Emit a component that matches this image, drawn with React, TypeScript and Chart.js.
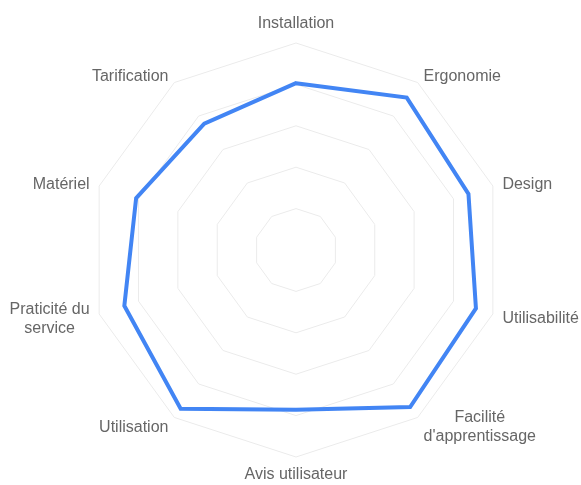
import React, { useEffect, useRef } from "react";
import { Chart, registerables } from "chart.js";

Chart.register(...registerables);

const categories: (string | string[])[] = [
  "Installation",
  "Ergonomie",
  "Design",
  "Utilisabilité",
  ["Facilité", "d'apprentissage"],
  "Avis utilisateur",
  "Utilisation",
  ["Praticité du", "service"],
  "Matériel",
  "Tarification",
];

const scores = [4.03, 4.55, 4.38, 4.57, 4.69, 3.86, 4.74, 4.36, 4.06, 3.77];

const scaleMax = 5;
const scaleStep = 1;

const FONT = "16px 'Liberation Sans', Arial, sans-serif";
const LINE_H = 19;
const LABEL_GAP = 10;

const customLabels = {
  id: "customLabels",
  afterDraw(chart: any) {
    const scale = chart.scales.r;
    const ctx = chart.ctx;
    const labels = chart.data.labels as (string | string[])[];
    const n = labels.length;
    ctx.save();
    ctx.font = FONT;
    ctx.fillStyle = "#666666";
    ctx.textAlign = "center";
    ctx.textBaseline = "middle";
    labels.forEach((lbl, i) => {
      const lines = Array.isArray(lbl) ? lbl : [lbl];
      const p = scale.getPointPosition(i, scale.drawingArea + LABEL_GAP);
      const blockW = Math.max(...lines.map((l) => ctx.measureText(l).width));
      const blockH = LINE_H * lines.length;
      const deg = (360 * i) / n;
      let cx: number;
      let top: number;
      if (deg === 0) {
        cx = p.x;
        top = p.y - blockH;
      } else if (Math.abs(deg - 180) < 0.01) {
        cx = p.x;
        top = p.y - 2;
      } else if (deg < 180) {
        cx = p.x + blockW / 2;
        top = p.y - blockH / 2 + 2;
      } else {
        cx = p.x - blockW / 2;
        top = p.y - blockH / 2 + 2;
      }
      lines.forEach((ln, j) => {
        ctx.fillText(ln, cx, top + LINE_H * j + LINE_H / 2);
      });
    });
    ctx.restore();
  },
};

export default function App() {
  const ref = useRef<HTMLCanvasElement>(null);
  useEffect(() => {
    if (!ref.current) return;
    const chart = new Chart(ref.current, {
      type: "radar",
      data: {
        labels: categories,
        datasets: [
          {
            data: scores,
            borderColor: "#4285f4",
            borderWidth: 4,
            fill: false,
            pointRadius: 0,
            pointHoverRadius: 0,
            borderJoinStyle: "miter",
          } as any,
        ],
      },
      options: {
        responsive: false,
        animation: false,
        layout: { padding: { top: 43, bottom: 28, left: 89, right: 78 } },
        plugins: {
          legend: { display: false },
          tooltip: { enabled: false },
        },
        scales: {
          r: {
            min: 0,
            max: scaleMax,
            ticks: { display: false, stepSize: scaleStep },
            angleLines: { display: false },
            grid: { color: "#ebebeb", lineWidth: 1 },
            pointLabels: { display: false },
          },
        },
      },
      plugins: [customLabels],
    });
    return () => chart.destroy();
  }, []);
  return (
    <div style={{ position: "absolute", left: 0, top: 0, width: 581, height: 485 }}>
      <canvas ref={ref} width={581} height={485} />
    </div>
  );
}
